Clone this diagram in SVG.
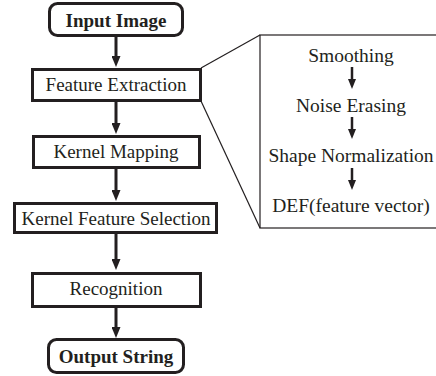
<svg xmlns="http://www.w3.org/2000/svg" width="436" height="376" viewBox="0 0 436 376">
<defs>
<marker id="ah" viewBox="0 0 11 9" refX="0" refY="4.5" markerWidth="11" markerHeight="9" markerUnits="userSpaceOnUse" orient="auto">
<path d="M0,0 L11,4.5 L0,9 Z" fill="#231f20"/>
</marker>
<marker id="ahs" viewBox="0 0 10 8" refX="0" refY="4" markerWidth="10" markerHeight="8" markerUnits="userSpaceOnUse" orient="auto">
<path d="M0,0 L10,4 L0,8 Z" fill="#231f20"/>
</marker>
</defs>
<rect width="436" height="376" fill="#fff"/>
<g id="connectors" fill="none" stroke="#231f20">
<g stroke-width="3" marker-end="url(#ah)">
<line x1="116" y1="36" x2="116" y2="56"/>
<line x1="116" y1="101" x2="116" y2="123"/>
<line x1="116" y1="168" x2="116" y2="190"/>
<line x1="116" y1="233" x2="116" y2="259"/>
<line x1="116" y1="307" x2="116" y2="327"/>
</g>
<g stroke-width="1.2">
<line x1="201" y1="68" x2="260" y2="35"/>
<line x1="201" y1="101" x2="260" y2="228"/>
</g>
<g stroke-width="2.5" marker-end="url(#ahs)">
<line x1="352" y1="67" x2="352" y2="79"/>
<line x1="352" y1="117" x2="352" y2="129"/>
<line x1="352" y1="168" x2="352" y2="180"/>
</g>
</g>
<g id="input-image">
<rect x="49.5" y="3.5" width="133" height="32" rx="8" fill="#fff" stroke="#231f20" stroke-width="3"/>
<text x="116" y="27" font-family="'Liberation Serif', 'Times New Roman', serif" font-size="19" font-weight="bold" fill="#231f20" text-anchor="middle">Input Image</text>
</g>
<g id="feature-extraction">
<rect x="32.5" y="69.5" width="168" height="31" fill="#fff" stroke="#231f20" stroke-width="3"/>
<text x="116" y="91" font-family="'Liberation Serif', 'Times New Roman', serif" font-size="19" fill="#231f20" text-anchor="middle">Feature Extraction</text>
</g>
<g id="kernel-mapping">
<rect x="33.5" y="136.5" width="166" height="31" fill="#fff" stroke="#231f20" stroke-width="3"/>
<text x="116" y="158" font-family="'Liberation Serif', 'Times New Roman', serif" font-size="19" fill="#231f20" text-anchor="middle">Kernel Mapping</text>
</g>
<g id="kernel-feature-selection">
<rect x="14.5" y="203.5" width="202" height="29" fill="#fff" stroke="#231f20" stroke-width="3"/>
<text x="116" y="225" font-family="'Liberation Serif', 'Times New Roman', serif" font-size="19" fill="#231f20" text-anchor="middle">Kernel Feature Selection</text>
</g>
<g id="recognition">
<rect x="32.5" y="273.5" width="168" height="33" fill="#fff" stroke="#231f20" stroke-width="3"/>
<text x="116" y="295" font-family="'Liberation Serif', 'Times New Roman', serif" font-size="19" fill="#231f20" text-anchor="middle">Recognition</text>
</g>
<g id="output-string">
<rect x="48.5" y="339.5" width="135" height="33" rx="8" fill="#fff" stroke="#231f20" stroke-width="3"/>
<text x="116" y="363" font-family="'Liberation Serif', 'Times New Roman', serif" font-size="19" font-weight="bold" fill="#231f20" text-anchor="middle">Output String</text>
</g>
<g id="detail-panel">
<rect x="260" y="35" width="190" height="193" fill="none" stroke="#231f20" stroke-width="1.2"/>
<text x="351" y="62" font-family="'Liberation Serif', 'Times New Roman', serif" font-size="19.5" fill="#231f20" text-anchor="middle">Smoothing</text>
<text x="351" y="112" font-family="'Liberation Serif', 'Times New Roman', serif" font-size="19.5" fill="#231f20" text-anchor="middle">Noise Erasing</text>
<text x="351" y="162" font-family="'Liberation Serif', 'Times New Roman', serif" font-size="19.5" fill="#231f20" text-anchor="middle">Shape Normalization</text>
<text x="351" y="212" font-family="'Liberation Serif', 'Times New Roman', serif" font-size="19.5" fill="#231f20" text-anchor="middle">DEF(feature vector)</text>
</g>
</svg>
